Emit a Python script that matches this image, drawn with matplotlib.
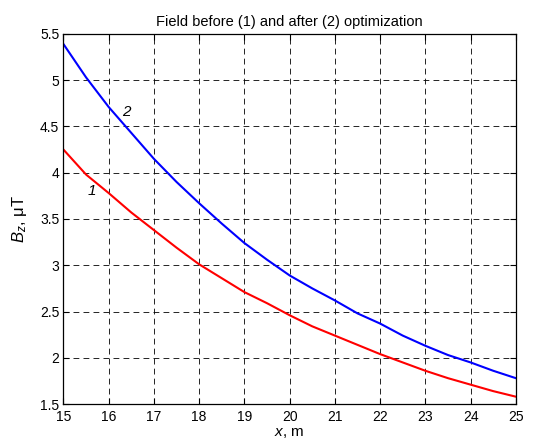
import matplotlib
matplotlib.use("Agg")
import matplotlib.pyplot as plt
import numpy as np

plt.rcParams["font.family"] = "Liberation Sans"
plt.rcParams["mathtext.fontset"] = "custom"
plt.rcParams["mathtext.rm"] = "Liberation Sans"
plt.rcParams["mathtext.it"] = "Liberation Sans:italic"

x = [15, 15.5, 16, 16.5, 17, 17.5, 18, 18.5, 19, 19.5, 20,
     20.5, 21, 21.5, 22, 22.5, 23, 23.5, 24, 24.5, 25]
# curve 1, before optimization
bz_before = [4.25, 3.98, 3.78, 3.57, 3.38, 3.19, 3.01, 2.86, 2.71, 2.59, 2.46,
             2.34, 2.24, 2.14, 2.04, 1.95, 1.86, 1.78, 1.71, 1.64, 1.58]
# curve 2, after optimization
bz_after = [5.39, 5.03, 4.71, 4.43, 4.15, 3.90, 3.67, 3.45, 3.24, 3.06, 2.89,
            2.75, 2.62, 2.48, 2.37, 2.24, 2.13, 2.03, 1.95, 1.86, 1.78]

xticks = np.arange(15, 26, 1)
yticks = [1.5, 2, 2.5, 3, 3.5, 4, 4.5, 5, 5.5]
yticklabels = ["1.5", "2", "2.5", "3", "3.5", "4", "4.5", "5", "5.5"]

fig = plt.figure(figsize=(5.47, 4.46), dpi=100)
ax = fig.add_axes([0.116, 0.094, 0.827, 0.83])

ax.plot(x, bz_before, color="#ff0000", lw=1.5)
ax.plot(x, bz_after, color="#0000ff", lw=1.5)

ax.text(15.62, 3.80, "1", fontsize=11, style="italic", ha="center", va="center")
ax.text(16.38, 4.66, "2", fontsize=11, style="italic", ha="center", va="center")

ax.set_xlim(15, 25)
ax.set_ylim(1.5, 5.5)
ax.set_xticks(xticks)
ax.set_yticks(yticks)
ax.set_yticklabels(yticklabels)
ax.tick_params(direction="in", top=True, right=True, labelsize=10, length=4)
ax.tick_params(axis="x", pad=4)
ax.tick_params(axis="y", pad=3)
ax.grid(True, color="black", lw=0.6, dashes=(7, 5))
ax.set_axisbelow(True)
for s in ax.spines.values():
    s.set_linewidth(0.9)

ax.set_title("Field before (1) and after (2) optimization", fontsize=10.5, pad=6)
ax.set_xlabel(r"$x$, m", fontsize=11, labelpad=2)
ax.set_ylabel(r"$B_z$, μT", fontsize=12, labelpad=8)

fig.savefig("out.png", dpi=100)
